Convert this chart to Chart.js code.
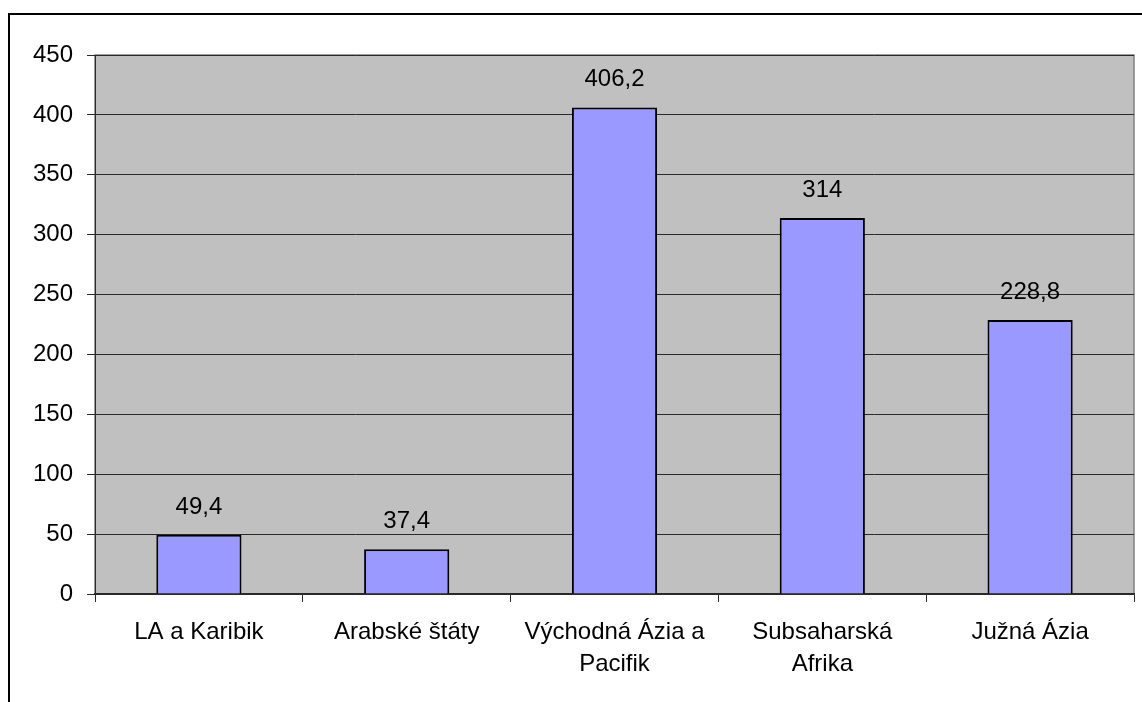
<!DOCTYPE html>
<html>
<head>
<meta charset="utf-8">
<script src="https://cdn.jsdelivr.net/npm/chart.js@4/dist/chart.umd.min.js"></script>
<style>
    html, body { margin: 0; padding: 0; background: #fff; overflow: hidden; }
    #wrap { position: relative; width: 1142px; height: 702px; }
    #frame { position: absolute; left: 8px; top: 13px; width: 1200px; height: 800px; border: 2px solid #000; }
    #salesChart { position: absolute; left: 0; top: 0; }
</style>
</head>
<body>
<div id="wrap">
    <div id="frame"></div>
    <canvas id="salesChart" width="1142" height="702"></canvas>
</div>
<script>
const regions = [
    'LA a Karibik',
    'Arabské štáty',
    ['Východná Ázia a', 'Pacifik'],
    ['Subsaharská', 'Afrika'],
    'Južná Ázia'
];
const values = [49.4, 37.4, 406.2, 314, 228.8];
const yTicks = [0, 50, 100, 150, 200, 250, 300, 350, 400, 450];

const font = { family: "'Liberation Sans', Arial, sans-serif", size: 24 };

// gray plot area with thin gray frame
const plotArea = {
    id: 'plotArea',
    beforeDraw(chart) {
        const a = chart.chartArea;
        const c = chart.ctx;
        c.save();
        c.fillStyle = '#C0C0C0';
        c.fillRect(a.left, a.top, a.right - a.left, a.bottom - a.top);
        c.strokeStyle = '#808080';
        c.lineWidth = 1.5;
        c.strokeRect(a.left, a.top, a.right - a.left, a.bottom - a.top);
        c.restore();
    }
};

// value labels above the bars
const valueLabels = {
    id: 'valueLabels',
    afterDatasetsDraw(chart) {
        const c = chart.ctx;
        c.save();
        c.font = font.size + 'px ' + font.family;
        c.fillStyle = '#000';
        c.textAlign = 'center';
        c.textBaseline = 'alphabetic';
        chart.getDatasetMeta(0).data.forEach(function(bar, i) {
            c.fillText(String(values[i]).replace('.', ','), bar.x, bar.y - 21);
        });
        c.restore();
    }
};

const ctx = document.getElementById('salesChart').getContext('2d');

new Chart(ctx, {
    type: 'bar',
    data: {
        labels: regions,
        datasets: [{
            data: values,
            backgroundColor: '#9999FF',
            borderColor: '#000',
            borderWidth: 2,
            barPercentage: 0.41,
            categoryPercentage: 1
        }]
    },
    options: {
        responsive: false,
        animation: false,
        devicePixelRatio: 1,
        layout: { padding: { top: 55, right: 8, left: 0, bottom: 0 } },
        plugins: { legend: { display: false }, tooltip: { enabled: false } },
        scales: {
            y: {
                min: 0,
                max: 450,
                afterFit(scale) { scale.width = 95; },
                afterBuildTicks(scale) { scale.ticks = yTicks.map(v => ({ value: v })); },
                ticks: { font: font, color: '#000', padding: 14 },
                grid: { color: '#2a2a2a', lineWidth: 1, tickLength: 8, tickColor: '#2a2a2a' },
                border: { display: true, color: '#2a2a2a', width: 1 }
            },
            x: {
                afterFit(scale) { scale.height = 108; },
                ticks: { font: Object.assign({ lineHeight: 1.32 }, font), color: '#000', padding: 15, maxRotation: 0, autoSkip: false },
                grid: { offset: true, drawOnChartArea: false, tickLength: 8, color: '#2a2a2a' },
                border: { display: true, color: '#2a2a2a', width: 1.5 }
            }
        }
    },
    plugins: [plotArea, valueLabels]
});
</script>
</body>
</html>
